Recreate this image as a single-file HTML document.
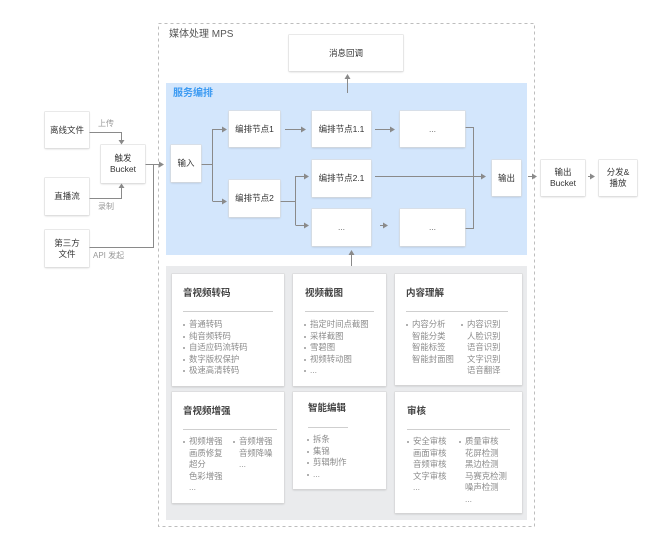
<!DOCTYPE html>
<html><head><meta charset="utf-8">
<style>
html,body{margin:0;padding:0;background:#fff;}
body{width:660px;height:543px;position:relative;overflow:hidden;font-family:"Liberation Sans","Noto Sans CJK SC",sans-serif;}
.a{position:absolute;}
.box{position:absolute;background:#fff;box-shadow:0 0 0 0.6px #dcdcdc,0 1px 2px rgba(0,0,0,0.18);display:flex;align-items:center;justify-content:center;text-align:center;font-size:8.5px;line-height:11px;color:#333;}
.card{position:absolute;background:#fff;box-shadow:0 0 0 0.6px #d8d8d8,0 1px 2px rgba(0,0,0,0.2);}
.ct{position:absolute;font-size:9.5px;font-weight:bold;color:#444;line-height:12px;white-space:nowrap;}
.sep{position:absolute;height:1px;background:#cfcfcf;}
.col{position:absolute;font-size:8.4px;line-height:11.6px;color:#8c8c8c;white-space:nowrap;}
.col div{position:relative;padding-left:6px;}
.col i{position:absolute;left:0;top:5px;width:2px;height:2px;border-radius:1px;background:#999;}
.lbl{position:absolute;font-size:8px;color:#999;white-space:nowrap;line-height:10px;}
</style></head><body>

<svg class="a" style="left:0;top:0" width="660" height="543" viewBox="0 0 660 543">
  <rect x="158.5" y="23.5" width="376" height="503" fill="none" stroke="#bdbdbd" stroke-width="1" stroke-dasharray="3,3"/>
  <rect x="166" y="83" width="361" height="172" fill="#d3e6fc"/>
  <rect x="166" y="266" width="361" height="254" fill="#eaebed"/>
  <g stroke="#8a8a8a" stroke-width="1" fill="none">
    <polyline points="89,132.5 121.5,132.5 121.5,140"/>
    <polyline points="89,198.5 121.5,198.5 121.5,188"/>
    <polyline points="89,247.5 153.5,247.5 153.5,164"/>
    <line x1="145" y1="164.5" x2="160" y2="164.5"/>
    <line x1="201" y1="164.5" x2="212.5" y2="164.5"/>
    <line x1="212.5" y1="129" x2="212.5" y2="201"/>
    <line x1="212.5" y1="129.5" x2="223" y2="129.5"/>
    <line x1="212.5" y1="201.5" x2="223" y2="201.5"/>
    <line x1="285" y1="129.5" x2="302" y2="129.5"/>
    <line x1="375" y1="129.5" x2="391" y2="129.5"/>
    <line x1="280" y1="201.5" x2="295.5" y2="201.5"/>
    <line x1="295.5" y1="176" x2="295.5" y2="225"/>
    <line x1="295.5" y1="176.5" x2="305" y2="176.5"/>
    <line x1="295.5" y1="225.5" x2="305" y2="225.5"/>
    <line x1="380" y1="225.5" x2="384" y2="225.5"/>
    <line x1="375" y1="176.5" x2="482" y2="176.5"/>
    <polyline points="465,127.5 473.5,127.5 473.5,228.5 465,228.5"/>
    <line x1="528" y1="176.5" x2="533" y2="176.5"/>
    <line x1="588" y1="176.5" x2="591" y2="176.5"/>
    <line x1="347.5" y1="93" x2="347.5" y2="79"/>
    <line x1="351.5" y1="266" x2="351.5" y2="255"/>
  </g>
  <g fill="#8a8a8a">
    <polygon points="118.5,140 124.5,140 121.5,144.5"/>
    <polygon points="118.5,188 124.5,188 121.5,183.5"/>
    <polygon points="159,161.5 159,167.5 164,164.5"/>
    <polygon points="222,126.5 222,132.5 227,129.5"/>
    <polygon points="222,198.5 222,204.5 227,201.5"/>
    <polygon points="301,126.5 301,132.5 306,129.5"/>
    <polygon points="390,126.5 390,132.5 395,129.5"/>
    <polygon points="304,173.5 304,179.5 309,176.5"/>
    <polygon points="304,222.5 304,228.5 309,225.5"/>
    <polygon points="383,222.5 383,228.5 388,225.5"/>
    <polygon points="481,173.5 481,179.5 486,176.5"/>
    <polygon points="532,173.5 532,179.5 537,176.5"/>
    <polygon points="590,173.5 590,179.5 595,176.5"/>
    <polygon points="344.5,79 350.5,79 347.5,74"/>
    <polygon points="348.5,255 354.5,255 351.5,250"/>
  </g>
</svg>

<div class="a" style="left:169px;top:29px;font-size:10px;color:#555;line-height:12px;white-space:nowrap;">媒体处理 MPS</div>
<div class="a" style="left:173px;top:88px;font-size:10px;color:#3d9bf2;font-weight:bold;line-height:12px;white-space:nowrap;">服务编排</div>

<div class="lbl" style="left:98px;top:119px;">上传</div>
<div class="lbl" style="left:98px;top:202px;">录制</div>
<div class="lbl" style="left:93px;top:251px;">API 发起</div>

<div class="box" style="left:45px;top:112px;width:44px;height:36px;">离线文件</div>
<div class="box" style="left:101px;top:145px;width:44px;height:38px;">触发<br>Bucket</div>
<div class="box" style="left:45px;top:178px;width:44px;height:37px;">直播流</div>
<div class="box" style="left:45px;top:230px;width:44px;height:37px;">第三方<br>文件</div>

<div class="box" style="left:289px;top:35px;width:114px;height:36px;">消息回调</div>
<div class="box" style="left:171px;top:145px;width:30px;height:37px;">输入</div>
<div class="box" style="left:229px;top:111px;width:51px;height:36px;">编排节点1</div>
<div class="box" style="left:229px;top:180px;width:51px;height:37px;">编排节点2</div>
<div class="box" style="left:312px;top:111px;width:59px;height:36px;">编排节点1.1</div>
<div class="box" style="left:400px;top:111px;width:65px;height:36px;color:#666;">...</div>
<div class="box" style="left:312px;top:160px;width:59px;height:37px;">编排节点2.1</div>
<div class="box" style="left:312px;top:209px;width:59px;height:37px;color:#666;">...</div>
<div class="box" style="left:400px;top:209px;width:65px;height:37px;color:#666;">...</div>
<div class="box" style="left:492px;top:160px;width:29px;height:36px;">输出</div>
<div class="box" style="left:541px;top:160px;width:44px;height:36px;">输出<br>Bucket</div>
<div class="box" style="left:599px;top:160px;width:38px;height:36px;">分发&amp;<br>播放</div>

<!-- Card 1 -->
<div class="card" style="left:172px;top:274px;width:112px;height:112px;"></div>
<div class="ct" style="left:183px;top:288px;">音视频转码</div>
<div class="sep" style="left:183px;top:311px;width:90px;"></div>
<div class="col" style="left:183px;top:319px;">
  <div><i></i>普通转码</div><div><i></i>纯音频转码</div><div><i></i>自适应码流转码</div><div><i></i>数字版权保护</div><div><i></i>极速高清转码</div>
</div>

<!-- Card 2 -->
<div class="card" style="left:293px;top:274px;width:93px;height:112px;"></div>
<div class="ct" style="left:305px;top:288px;">视频截图</div>
<div class="sep" style="left:305px;top:311px;width:69px;"></div>
<div class="col" style="left:304px;top:319px;">
  <div><i></i>指定时间点截图</div><div><i></i>采样截图</div><div><i></i>雪碧图</div><div><i></i>视频转动图</div><div><i></i>...</div>
</div>

<!-- Card 3 -->
<div class="card" style="left:395px;top:274px;width:127px;height:111px;"></div>
<div class="ct" style="left:406px;top:288px;">内容理解</div>
<div class="sep" style="left:406px;top:311px;width:102px;"></div>
<div class="col" style="left:406px;top:319px;">
  <div><i></i>内容分析</div><div>智能分类</div><div>智能标签</div><div>智能封面图</div>
</div>
<div class="col" style="left:461px;top:319px;">
  <div><i></i>内容识别</div><div>人脸识别</div><div>语音识别</div><div>文字识别</div><div>语音翻译</div>
</div>

<!-- Card 4 -->
<div class="card" style="left:172px;top:392px;width:112px;height:111px;"></div>
<div class="ct" style="left:183px;top:406px;">音视频增强</div>
<div class="sep" style="left:183px;top:429px;width:94px;"></div>
<div class="col" style="left:183px;top:436px;">
  <div><i></i>视频增强</div><div>画质修复</div><div>超分</div><div>色彩增强</div><div>...</div>
</div>
<div class="col" style="left:233px;top:436px;">
  <div><i></i>音频增强</div><div>音频降噪</div><div>...</div>
</div>

<!-- Card 5 -->
<div class="card" style="left:293px;top:392px;width:93px;height:97px;"></div>
<div class="ct" style="left:308px;top:403px;">智能编辑</div>
<div class="sep" style="left:308px;top:427px;width:40px;"></div>
<div class="col" style="left:307px;top:434px;">
  <div><i></i>拆条</div><div><i></i>集锦</div><div><i></i>剪辑制作</div><div><i></i>...</div>
</div>

<!-- Card 6 -->
<div class="card" style="left:395px;top:392px;width:127px;height:121px;"></div>
<div class="ct" style="left:407px;top:406px;">审核</div>
<div class="sep" style="left:407px;top:429px;width:103px;"></div>
<div class="col" style="left:407px;top:436px;">
  <div><i></i>安全审核</div><div>画面审核</div><div>音频审核</div><div>文字审核</div><div>...</div>
</div>
<div class="col" style="left:459px;top:436px;">
  <div><i></i>质量审核</div><div>花屏检测</div><div>黑边检测</div><div>马赛克检测</div><div>噪声检测</div><div>...</div>
</div>

</body></html>
